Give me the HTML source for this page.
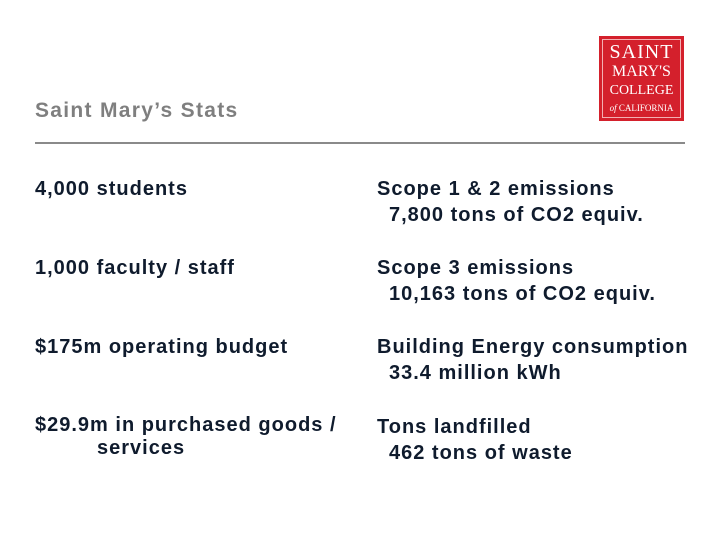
<!DOCTYPE html>
<html><head><meta charset="utf-8"><style>
body{margin:0;width:720px;height:540px;background:#fff;position:relative;overflow:hidden;font-family:"Liberation Sans",sans-serif}
.t{position:absolute;font-weight:bold;font-size:20px;letter-spacing:1px;color:#0f1b2d;line-height:26px;white-space:nowrap}
</style></head><body>
<div style="position:absolute;left:35px;top:99px;font-size:21px;letter-spacing:1.3px;font-weight:bold;color:#7f7f7f">Saint Mary’s Stats</div>
<div style="position:absolute;left:35px;top:142px;width:650px;height:2px;background:#8a8a8a"></div>
<div style="position:absolute;left:599px;top:36px;width:85px;height:85px;background:#d4202c;font-family:'Liberation Serif',serif;color:#fff;text-align:center">
<div style="position:absolute;left:3px;top:3px;right:3px;bottom:3px;border:1px solid #f3b0b3"></div>
<div style="position:absolute;top:6px;width:100%;font-size:20px;line-height:20px;letter-spacing:1px">SAINT</div>
<div style="position:absolute;top:28px;width:100%;font-size:16px;line-height:16px">MARY'S</div>
<div style="position:absolute;top:48px;width:100%;font-size:14px;line-height:14px">COLLEGE</div>
<div style="position:absolute;top:67px;width:100%;font-size:9px;line-height:10px"><i>of</i> CALIFORNIA</div>
</div>
<div class="t" style="left:35px;top:176px">4,000 students</div>
<div class="t" style="left:35px;top:255px">1,000 faculty / staff</div>
<div class="t" style="left:35px;top:334px">$175m operating budget</div>
<div class="t" style="left:35px;top:414px;line-height:23px">$29.9m in purchased goods /<br><span style="padding-left:62px">services</span></div>
<div class="t" style="left:377px;top:176px">Scope 1 &amp; 2 emissions<br><span style="padding-left:12px">7,800 tons of CO2 equiv.</span></div>
<div class="t" style="left:377px;top:255px">Scope 3 emissions<br><span style="padding-left:12px">10,163 tons of CO2 equiv.</span></div>
<div class="t" style="left:377px;top:334px">Building Energy consumption<br><span style="padding-left:12px">33.4 million kWh</span></div>
<div class="t" style="left:377px;top:414px">Tons landfilled<br><span style="padding-left:12px">462 tons of waste</span></div>
</body></html>
